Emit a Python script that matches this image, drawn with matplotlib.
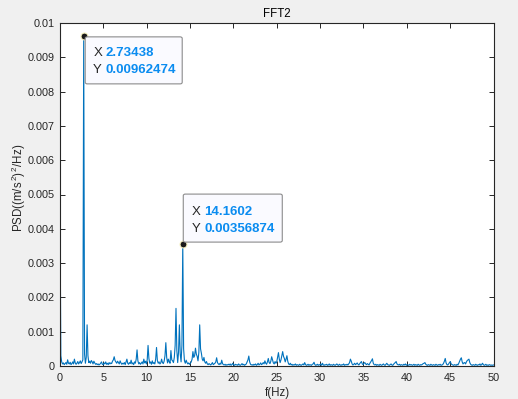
import numpy as np
import matplotlib
matplotlib.use("Agg")
import matplotlib.pyplot as plt
from matplotlib.patches import FancyBboxPatch

# ---- data ----
fs = 100.0          # sample rate (Hz)
nfft = 1024         # FFT length -> bin spacing fs/nfft
# PSD values per frequency bin, in units of 1e-5 (m/s^2)^2/Hz
psd_e5 = [
    446, 30, 12, 6, 9, 4, 7, 10, 5, 18, 8, 6, 11, 4, 7, 12, 6, 20, 9, 5,
    8, 13, 6, 10, 15, 7, 12, 18, 962.474, 35, 8, 25, 120, 30, 10, 14, 8, 16, 12, 6,
    14, 9, 5, 7, 4, 6, 3, 5, 8, 12, 5, 4, 9, 6, 12, 5, 8, 4, 10, 6,
    9, 7, 14, 18, 27, 16, 12, 8, 14, 10, 6, 15, 9, 5, 8, 6, 10, 4, 12, 20,
    8, 5, 10, 7, 17, 6, 9, 4, 12, 8, 20, 47, 15, 6, 10, 5, 8, 12, 6, 20,
    9, 14, 6, 18, 60, 22, 8, 12, 5, 15, 7, 10, 6, 20, 54, 16, 8, 12, 6, 9,
    20, 10, 7, 14, 30, 68, 25, 9, 20, 12, 8, 45, 18, 15, 10, 25, 60, 168, 45, 10,
    40, 120, 35, 12, 60, 356.874, 50, 15, 8, 17, 10, 6, 9, 5, 8, 12, 20, 42, 25, 30,
    52, 35, 28, 15, 40, 120, 50, 37, 20, 15, 25, 12, 8, 13, 6, 4, 7, 5, 3, 6,
    10, 4, 6, 8, 12, 24, 10, 6, 4, 8, 5, 17, 7, 4, 3, 5, 2, 4, 3, 5,
    3, 6, 2, 4, 8, 3, 2, 5, 3, 4, 2, 6, 3, 2, 4, 7, 3, 5, 2, 4,
    6, 12, 18, 29, 12, 5, 3, 4, 2, 5, 3, 6, 2, 4, 8, 3, 5, 9, 4, 6,
    10, 6, 15, 8, 5, 12, 22, 10, 7, 14, 27, 18, 9, 6, 13, 8, 12, 25, 39, 20,
    10, 18, 30, 42, 28, 22, 12, 20, 30, 14, 6, 4, 8, 3, 5, 2, 4, 3, 6, 2,
    4, 3, 2, 5, 3, 2, 4, 6, 3, 10, 4, 2, 3, 5, 2, 4, 3, 2, 5, 6,
    11, 4, 2, 3, 5, 2, 4, 3, 6, 2, 8, 3, 2, 4, 3, 5, 2, 3, 6, 2,
    4, 3, 2, 5, 3, 2, 4, 6, 3, 2, 5, 3, 2, 4, 3, 6, 2, 4, 3, 5,
    3, 6, 10, 20, 14, 6, 3, 5, 8, 4, 6, 9, 5, 3, 7, 10, 13, 6, 4, 8,
    10, 6, 4, 7, 5, 3, 8, 12, 16, 21, 8, 4, 3, 5, 2, 4, 3, 2, 5, 3,
    2, 4, 6, 3, 2, 5, 8, 4, 3, 2, 4, 6, 3, 2, 5, 8, 10, 13, 6, 4,
    3, 5, 2, 4, 3, 2, 5, 3, 6, 2, 4, 3, 2, 5, 3, 4, 2, 3, 5, 2,
    4, 3, 2, 5, 3, 2, 4, 3, 5, 7, 8, 10, 5, 3, 2, 4, 3, 2, 5, 3,
    2, 4, 3, 2, 5, 3, 2, 4, 3, 5, 2, 3, 4, 8, 14, 22, 9, 4, 3, 6,
    10, 13, 6, 4, 3, 2, 4, 3, 2, 5, 3, 8, 14, 20, 24, 12, 6, 9, 10, 6,
    12, 16, 18, 20, 10, 5, 3, 2, 4, 3, 2, 5, 3, 2, 4, 3, 6, 2, 4, 8,
    4, 2, 3, 5, 2, 3, 2, 4, 3, 2, 3, 2, 3,
]
tip_bins = [28, 145]          # bins carrying data tips
xticks = [0, 5, 10, 15, 20, 25, 30, 35, 40, 45, 50]
yticks = [0, 0.001, 0.002, 0.003, 0.004, 0.005, 0.006, 0.007, 0.008, 0.009, 0.01]
ytick_labels = ["0", "0.001", "0.002", "0.003", "0.004", "0.005",
                "0.006", "0.007", "0.008", "0.009", "0.01"]
title = "FFT2"
xlabel = "f(Hz)"
ylabel = "PSD((m/s$^{\\,2}$)$^{\\,2}$/Hz)"

freq = np.arange(len(psd_e5)) * fs / nfft
psd = np.array(psd_e5) * 1e-5

# ---- style ----
plt.rcParams['font.family'] = ['Liberation Sans', 'DejaVu Sans']
plt.rcParams['mathtext.fontset'] = 'custom'
plt.rcParams['mathtext.rm'] = 'Liberation Sans'
plt.rcParams['mathtext.it'] = 'Liberation Sans:italic'
axc = '#262626'
W, H = 518, 399

fig = plt.figure(figsize=(W/100, H/100), dpi=100, facecolor='#F0F0F0')
ax = fig.add_axes([60/W, 33/H, 433.5/W, 343/H])
ax.set_facecolor('white')
ax.plot(freq, psd, color='#0072BD', lw=0.8)

ax.set_xlim(0, 50)
ax.set_ylim(0, 0.01)
ax.set_xticks(xticks)
ax.set_yticks(yticks)
ax.set_yticklabels(ytick_labels)
for s in ax.spines.values():
    s.set_color(axc)
    s.set_linewidth(0.8)
ax.tick_params(direction='in', length=3.5, width=0.7, colors=axc,
               labelsize=7.8, top=True, right=True)
ax.tick_params(axis='x', pad=5)
ax.tick_params(axis='y', pad=4)
ax.set_title(title, fontsize=8.3, color='black', pad=4)
ax.set_xlabel(xlabel, fontsize=8.3, color=axc)
ax.set_ylabel(ylabel, fontsize=8.3, color=axc)
ax.xaxis.set_label_coords((277 - 60) / 433.5, -(387 - 366) / 343)
ax.xaxis.label.set_va('top')
ax.yaxis.set_label_coords((28 - 60) / 433.5, (366 - 188) / 343)

# ---- data tips (pixel-based layout relative to tip point) ----
tip_cfg = {
    28: dict(box=(1.5, 1.0, 97, 47), rows=(17.5, 34.5), xo=8, vo=20),
    145: dict(box=(0.5, -49.5, 99, 48), rows=(-32, -14.5), xo=8, vo=21),
}
for k in tip_bins:
    fx, fy = freq[k], psd[k]
    c = tip_cfg[k]
    bx, by, bw, bh = c['box']
    anchor = ax.transData.transform((fx, fy))
    x0 = anchor[0] + bx
    y0 = anchor[1] - (by + bh)
    rect = FancyBboxPatch((x0 / W, y0 / H), bw / W, bh / H,
                          boxstyle='round,pad=0,rounding_size=0.004',
                          transform=fig.transFigure, facecolor='#FAFAFF',
                          edgecolor='#8C8C8C', lw=0.8, zorder=5)
    fig.patches.append(rect)
    r1, r2 = c['rows']
    for lab, val, r in (('X', f"{fx:.6g}", r1), ('Y', f"{fy:.6g}", r2)):
        fig.text((x0 + c['xo']) / W, (anchor[1] - r) / H, lab, fontsize=9.5,
                 color=axc, va='center', ha='left', zorder=6)
        fig.text((x0 + c['vo']) / W, (anchor[1] - r) / H, val, fontsize=9.5,
                 color='#0A8CF0', fontweight='bold', va='center', ha='left', zorder=6)
    ax.plot([fx], [fy], 'o', ms=5, mfc='#1A1A1A', mec='#F5F0C0', mew=0.8,
            zorder=7, clip_on=False)

fig.savefig('out.png', dpi=100, facecolor=fig.get_facecolor())
